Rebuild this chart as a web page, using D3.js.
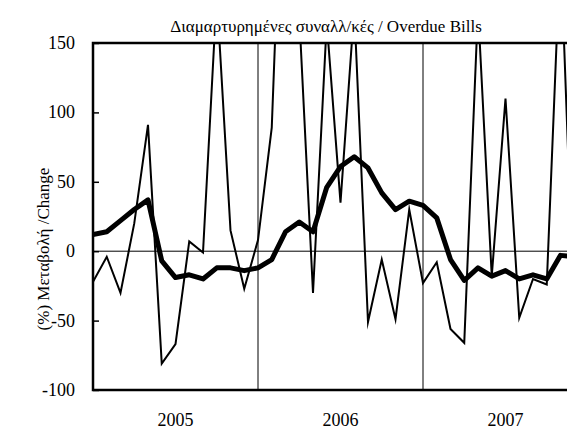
<!DOCTYPE html>
<html>
<head>
<meta charset="utf-8">
<script src="https://cdn.jsdelivr.net/npm/d3@7"></script>
<style>
  html, body { margin: 0; padding: 0; background: #fff; }
  svg { display: block; }
</style>
</head>
<body>
<svg id="chart" width="567" height="430"></svg>
<script>
// ---- data (monthly, Jan 2005 .. Dec 2007) ----
const monthIndex = d3.range(36);
const monthlyChange = [-22, -4, -30, 20, 91, -81, -67, 7, -1, 185, 15, -27,
                       8, 89, 350, 170, -30, 165, 35, 175, -51, -6, -49, 30,
                       -23, -8, -56, -66, 175, -18, 110, -48, -20, -24, 220, -50];
const smoothedChange = [12, 14, 22, 30, 37, -7, -19, -17, -20, -12, -12, -14,
                        -12, -6, 14, 21, 14, 46, 61, 68, 60, 42, 30, 36,
                        33, 24, -6, -21, -12, -18, -14, -20, -17, -20, -3, -4];
const yearLabels = ["2005", "2006", "2007"];
const yTicks = [-100, -50, 0, 50, 100, 150];
const titleText = "Διαμαρτυρημένες συναλλ/κές / Overdue Bills";
const yLabelText = "(%) Μεταβολή /Change";

// ---- layout ----
const FONT = "'Liberation Serif', 'Times New Roman', serif";
const mL = 93, mR = 588, mT = 43, mB = 390;
const svg = d3.select("#chart");

const x = d3.scaleLinear().domain([0, 36]).range([mL, mR]);
const y = d3.scaleLinear().domain([-100, 150]).range([mB, mT]);

svg.append("defs").append("clipPath").attr("id", "plotclip")
  .append("rect").attr("x", mL).attr("y", mT)
  .attr("width", mR - mL).attr("height", mB - mT);

// year separators
svg.append("g").selectAll("line").data([12, 24]).join("line")
  .attr("x1", d => x(d)).attr("x2", d => x(d))
  .attr("y1", mT).attr("y2", mB)
  .attr("stroke", "#000").attr("stroke-width", 1);

// zero line
svg.append("line")
  .attr("x1", mL).attr("x2", mR)
  .attr("y1", y(0)).attr("y2", y(0))
  .attr("stroke", "#000").attr("stroke-width", 1);

const plot = svg.append("g").attr("clip-path", "url(#plotclip)");
const line = d3.line().x((d, i) => x(monthIndex[i])).y(d => y(d));

plot.append("path").datum(monthlyChange)
  .attr("d", line).attr("fill", "none")
  .attr("stroke", "#000").attr("stroke-width", 2)
  .attr("stroke-linejoin", "miter").attr("stroke-miterlimit", 10);

plot.append("path").datum(smoothedChange)
  .attr("d", line).attr("fill", "none")
  .attr("stroke", "#000").attr("stroke-width", 5)
  .attr("stroke-linejoin", "round");

// y axis ticks (inward) and labels
const yAxis = d3.axisRight(y).tickValues(yTicks).tickSize(6).tickFormat("");
const ga = svg.append("g").attr("transform", `translate(${mL},0)`).call(yAxis);
ga.select(".domain").remove();
ga.selectAll(".tick line").attr("stroke", "#000").attr("stroke-width", 1.5);

svg.append("g").selectAll("text").data(yTicks).join("text")
  .attr("x", mL - 18).attr("y", d => y(d))
  .attr("text-anchor", "end").attr("dominant-baseline", "central")
  .attr("font-family", FONT).attr("font-size", 18)
  .text(d => d);

// frame
svg.append("path")
  .attr("d", `M${mR},${mT}H${mL}V${mB}H${mR}`)
  .attr("fill", "none").attr("stroke", "#000").attr("stroke-width", 2.5);

// x labels (centered on years)
svg.append("g").selectAll("text").data(yearLabels).join("text")
  .attr("x", (d, i) => x(i * 12 + 6)).attr("y", 426)
  .attr("text-anchor", "middle")
  .attr("font-family", FONT).attr("font-size", 18)
  .text(d => d);

// title
svg.append("text").attr("x", 326).attr("y", 32)
  .attr("text-anchor", "middle")
  .attr("font-family", FONT).attr("font-size", 17)
  .text(titleText);

// y label
svg.append("text")
  .attr("transform", `translate(49,249) rotate(-90)`)
  .attr("text-anchor", "middle")
  .attr("font-family", FONT).attr("font-size", 17)
  .text(yLabelText);
</script>
</body>
</html>
